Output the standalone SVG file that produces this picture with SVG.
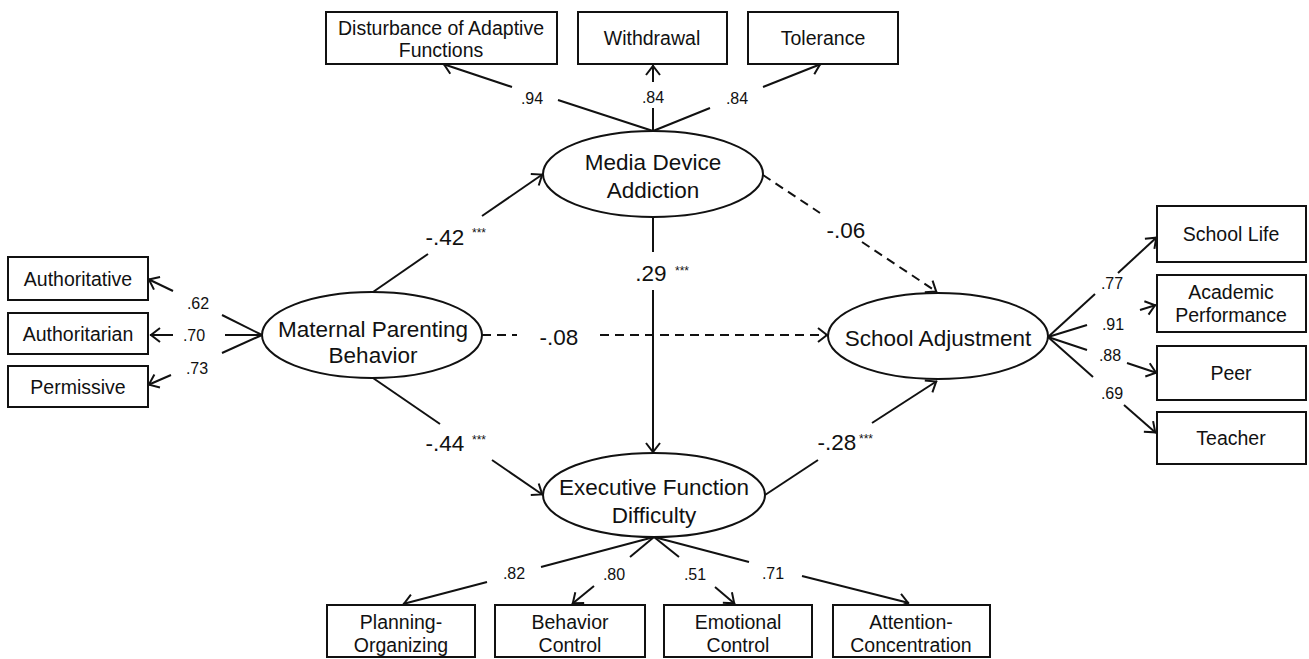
<svg xmlns="http://www.w3.org/2000/svg" width="1309" height="659" viewBox="0 0 1309 659">
<defs>
<style>
.bg{fill:#fff}
.n{fill:#fff;stroke:#111;stroke-width:2}
.e{stroke:#111;stroke-width:2;fill:none}
.d{stroke-dasharray:9 6}
text{font-family:"Liberation Sans",Arial,sans-serif;fill:#111;text-anchor:middle}
.t{font-size:22.5px}
.b{font-size:19.5px}
.l{font-size:16px}
.c{font-size:22.5px}
.s{font-size:12px}
</style>
<marker id="ah" viewBox="-12 -9 14 18" refX="1" refY="0" markerWidth="14" markerHeight="18" markerUnits="userSpaceOnUse" orient="auto">
<path d="M-9,-7 L0,0 L-9,7" fill="none" stroke="#111" stroke-width="2"/>
</marker>
</defs>
<rect class="bg" x="0" y="0" width="1309" height="659"/>

<g id="connectors">
  <g id="e-mda-dist">
    <path class="e" d="M653,131 L558,100"/>
    <path class="e" d="M512,87 L443,64" marker-end="url(#ah)"/>
    <text class="l" x="532" y="104">.94</text>
  </g>
  <g id="e-mda-with">
    <path class="e" d="M653,131 L653,108"/>
    <path class="e" d="M653,82 L653,65" marker-end="url(#ah)"/>
    <text class="l" x="653" y="103">.84</text>
  </g>
  <g id="e-mda-tol">
    <path class="e" d="M653,131 L710,108"/>
    <path class="e" d="M763,87 L821,64" marker-end="url(#ah)"/>
    <text class="l" x="737" y="104">.84</text>
  </g>
  <g id="e-mat-auth">
    <path class="e" d="M262,335 L222,315"/>
    <path class="e" d="M173,291 L148,279" marker-end="url(#ah)"/>
    <text class="l" x="198" y="309">.62</text>
  </g>
  <g id="e-mat-autht">
    <path class="e" d="M262,335 L225,335"/>
    <path class="e" d="M173,335 L150,335" marker-end="url(#ah)"/>
    <text class="l" x="194" y="341">.70</text>
  </g>
  <g id="e-mat-perm">
    <path class="e" d="M262,335 L222,353"/>
    <path class="e" d="M171,375 L148,385" marker-end="url(#ah)"/>
    <text class="l" x="197" y="374">.73</text>
  </g>
  <g id="e-sa-life">
    <path class="e" d="M1048,337 L1095,294"/>
    <path class="e" d="M1118,273 L1157,237" marker-end="url(#ah)"/>
    <text class="l" x="1112" y="289">.77</text>
  </g>
  <g id="e-sa-acad">
    <path class="e" d="M1048,337 L1087,325"/>
    <path class="e" d="M1140,310 L1156,305" marker-end="url(#ah)"/>
    <text class="l" x="1113" y="330">.91</text>
  </g>
  <g id="e-sa-peer">
    <path class="e" d="M1048,337 L1087,350"/>
    <path class="e" d="M1127,363 L1157,373" marker-end="url(#ah)"/>
    <text class="l" x="1110" y="361">.88</text>
  </g>
  <g id="e-sa-teach">
    <path class="e" d="M1048,337 L1093,377"/>
    <path class="e" d="M1124,405 L1156,433" marker-end="url(#ah)"/>
    <text class="l" x="1112" y="399">.69</text>
  </g>
  <g id="e-ef-plan">
    <path class="e" d="M654,537 L541,567"/>
    <path class="e" d="M487,582 L403,604" marker-end="url(#ah)"/>
    <text class="l" x="514" y="579">.82</text>
  </g>
  <g id="e-ef-beh">
    <path class="e" d="M654,537 L630,557"/>
    <path class="e" d="M594,586 L572,604" marker-end="url(#ah)"/>
    <text class="l" x="614" y="580">.80</text>
  </g>
  <g id="e-ef-emo">
    <path class="e" d="M654,537 L679,557"/>
    <path class="e" d="M715,587 L735,604" marker-end="url(#ah)"/>
    <text class="l" x="695" y="580">.51</text>
  </g>
  <g id="e-ef-att">
    <path class="e" d="M654,537 L749,562"/>
    <path class="e" d="M802,576 L909,603" marker-end="url(#ah)"/>
    <text class="l" x="773" y="579">.71</text>
  </g>
  <g id="e-mat-mda">
    <path class="e" d="M373,292 L428,254"/>
    <path class="e" d="M482,216 L543,174" marker-end="url(#ah)"/>
    <text class="c" x="445" y="245">-.42</text>
    <text class="s" x="479" y="237">***</text>
  </g>
  <g id="e-mat-ef">
    <path class="e" d="M373,378 L440,424"/>
    <path class="e" d="M492,460 L543,495" marker-end="url(#ah)"/>
    <text class="c" x="445" y="451">-.44</text>
    <text class="s" x="479" y="444">***</text>
  </g>
  <g id="e-mda-ef">
    <path class="e" d="M653,217 L653,252"/>
    <path class="e" d="M653,290 L653,453" marker-end="url(#ah)"/>
    <text class="c" x="651" y="281">.29</text>
    <text class="s" x="682" y="275">***</text>
  </g>
  <g id="e-mat-sa">
    <path class="e d" d="M482,335 L517,335"/>
    <path class="e d" d="M600,335 L828,335" marker-end="url(#ah)"/>
    <text class="c" x="559" y="345">-.08</text>
  </g>
  <g id="e-mda-sa">
    <path class="e d" d="M763,175 L820,213"/>
    <path class="e d" d="M862,242 L937,292" marker-end="url(#ah)"/>
    <text class="c" x="846" y="238">-.06</text>
  </g>
  <g id="e-ef-sa">
    <path class="e" d="M765,495 L818,460"/>
    <path class="e" d="M872,423 L937,381" marker-end="url(#ah)"/>
    <text class="c" x="837" y="450">-.28</text>
    <text class="s" x="866" y="443">***</text>
  </g>
</g>

<g id="n-mda">
  <ellipse class="n" cx="653" cy="174" rx="110" ry="43"/>
  <text class="t" x="653" y="170">Media Device</text>
  <text class="t" x="653" y="198">Addiction</text>
</g>
<g id="n-mat">
  <ellipse class="n" cx="372" cy="335" rx="110" ry="43"/>
  <text class="t" x="373" y="337">Maternal Parenting</text>
  <text class="t" x="373" y="363">Behavior</text>
</g>
<g id="n-sa">
  <ellipse class="n" cx="938" cy="336" rx="110" ry="43"/>
  <text class="t" x="938" y="346">School Adjustment</text>
</g>
<g id="n-ef">
  <ellipse class="n" cx="654" cy="495" rx="111" ry="42"/>
  <text class="t" x="654" y="495">Executive Function</text>
  <text class="t" x="654" y="523">Difficulty</text>
</g>

<g id="n-dist">
  <rect class="n" x="326" y="12" width="231" height="52"/>
  <text class="b" x="441" y="35">Disturbance of Adaptive</text>
  <text class="b" x="441" y="57">Functions</text>
</g>
<g id="n-with">
  <rect class="n" x="578" y="12" width="149" height="52"/>
  <text class="b" x="652" y="45">Withdrawal</text>
</g>
<g id="n-tol">
  <rect class="n" x="748" y="12" width="150" height="52"/>
  <text class="b" x="823" y="45">Tolerance</text>
</g>

<g id="n-auth">
  <rect class="n" x="8" y="257" width="140" height="43"/>
  <text class="b" x="78" y="286">Authoritative</text>
</g>
<g id="n-autht">
  <rect class="n" x="8" y="313" width="140" height="41"/>
  <text class="b" x="78" y="341">Authoritarian</text>
</g>
<g id="n-perm">
  <rect class="n" x="8" y="366" width="140" height="41"/>
  <text class="b" x="78" y="394">Permissive</text>
</g>

<g id="n-life">
  <rect class="n" x="1157" y="206" width="149" height="56"/>
  <text class="b" x="1231" y="241">School Life</text>
</g>
<g id="n-acad">
  <rect class="n" x="1157" y="275" width="149" height="57"/>
  <text class="b" x="1231" y="299">Academic</text>
  <text class="b" x="1231" y="322">Performance</text>
</g>
<g id="n-peer">
  <rect class="n" x="1157" y="346" width="149" height="54"/>
  <text class="b" x="1231" y="380">Peer</text>
</g>
<g id="n-teach">
  <rect class="n" x="1157" y="412" width="149" height="52"/>
  <text class="b" x="1231" y="445">Teacher</text>
</g>

<g id="n-plan">
  <rect class="n" x="327" y="605" width="148" height="52"/>
  <text class="b" x="401" y="629">Planning-</text>
  <text class="b" x="401" y="652">Organizing</text>
</g>
<g id="n-beh">
  <rect class="n" x="495" y="605" width="150" height="52"/>
  <text class="b" x="570" y="629">Behavior</text>
  <text class="b" x="570" y="652">Control</text>
</g>
<g id="n-emo">
  <rect class="n" x="664" y="605" width="148" height="52"/>
  <text class="b" x="738" y="629">Emotional</text>
  <text class="b" x="738" y="652">Control</text>
</g>
<g id="n-att">
  <rect class="n" x="833" y="605" width="157" height="52"/>
  <text class="b" x="911" y="629">Attention-</text>
  <text class="b" x="911" y="652">Concentration</text>
</g>
</svg>
